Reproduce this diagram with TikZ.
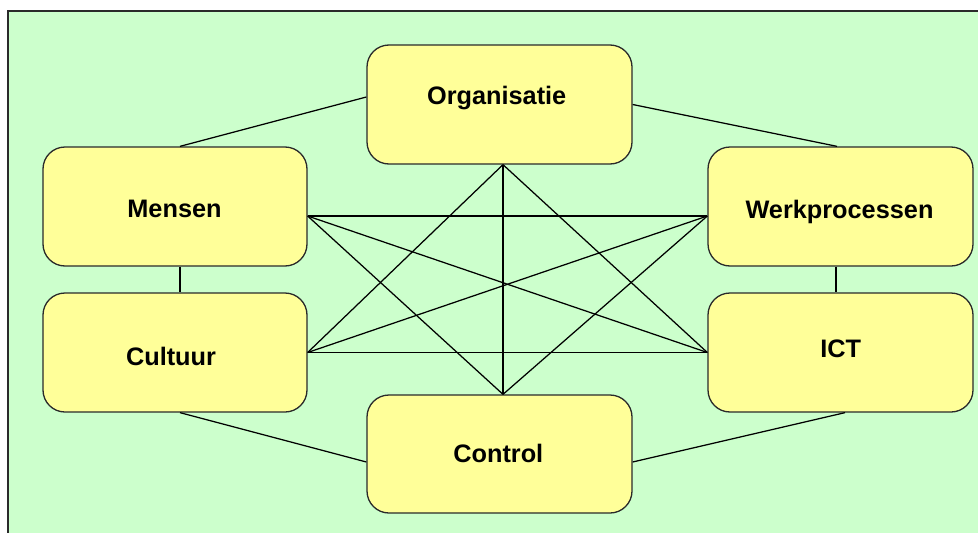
\documentclass[tikz,border=0pt]{standalone}
\usepackage{fontspec}
\setmainfont{Liberation Sans}
\definecolor{panelgreen}{HTML}{CCFFCC}
\definecolor{boxyellow}{HTML}{FFFF99}
\definecolor{edgegray}{HTML}{2A2A2A}
\tikzset{
  box/.style={rectangle, rounded corners=22pt, fill=boxyellow, draw=edgegray,
    line width=1.3pt, inner sep=0pt, minimum width=265pt, minimum height=119pt},
  lbl/.style={font=\fontsize{25.3}{30}\selectfont\bfseries, anchor=base, inner sep=0pt},
  link/.style={draw=black, line width=1.25pt}
}
\begin{document}
\begin{tikzpicture}[x=1pt, y=-1pt]
  \useasboundingbox (0,0) rectangle (978,533);
  \clip (0,0) rectangle (978,533);
  % panel
  \fill[white] (0,0) rectangle (978,533);
  \draw[fill=panelgreen, draw=edgegray, line width=1.4pt] (8,11) rectangle (995,550);

  % blocks
  \node[box] (org) at (499.5,104.5) {};
  \node[box, minimum width=264pt] (mensen) at (175,206.5) {};
  \node[box] (werk) at (840.5,206.5) {};
  \node[box, minimum width=264pt] (cultuur) at (175,352.5) {};
  \node[box] (ict) at (840.5,352.5) {};
  \node[box, minimum height=118pt] (control) at (499.5,454) {};

  % attachment points
  \coordinate (org-w) at ([yshift=7.5pt]org.west);
  \coordinate (org-s) at ([xshift=3.5pt]org.south);
  \coordinate (men-n) at ([xshift=5pt]mensen.north);
  \coordinate (men-s) at ([xshift=5pt]mensen.south);
  \coordinate (men-e) at ([yshift=-9.5pt]mensen.east);
  \coordinate (wrk-n) at ([xshift=-3.5pt]werk.north);
  \coordinate (wrk-s) at ([xshift=-4.5pt]werk.south);
  \coordinate (wrk-w) at ([yshift=-9.5pt]werk.west);
  \coordinate (cul-n) at ([xshift=5pt]cultuur.north);
  \coordinate (cul-s) at ([xshift=5pt]cultuur.south);
  \coordinate (ict-n) at ([xshift=-4.5pt]ict.north);
  \coordinate (ict-s) at ([xshift=4.5pt]ict.south);
  \coordinate (ctl-n) at ([xshift=3.5pt]control.north);
  \coordinate (ctl-w) at ([yshift=-8pt]control.west);
  \coordinate (ctl-e) at ([yshift=-8pt]control.east);

  % outer ring
  \draw[link] (org-w) -- (men-n);
  \draw[link] (org.east) -- (wrk-n);
  \draw[link] (men-s) -- (cul-n);
  \draw[link] (wrk-s) -- (ict-n);
  \draw[link] (cul-s) -- (ctl-w);
  \draw[link] (ict-s) -- (ctl-e);

  % inner web
  \draw[link] (men-e) -- (wrk-w);
  \draw[link] (cultuur.east) -- (ict.west);
  \draw[link] (org-s) -- (ctl-n);
  \draw[link] (men-e) -- (ict.west);
  \draw[link] (cultuur.east) -- (wrk-w);
  \draw[link] (org-s) -- (cultuur.east);
  \draw[link] (org-s) -- (ict.west);
  \draw[link] (ctl-n) -- (men-e);
  \draw[link] (ctl-n) -- (wrk-w);

  % labels
  \node[lbl] (org-t) at (496.7,104.3) {Organisatie};
  \node[lbl] (men-t) at (174.5,217.8) {Mensen};
  \node[lbl] (wrk-t) at (839.5,218.8) {Werkprocessen};
  \node[lbl] (cul-t) at (171,365) {Cultuur};
  \node[lbl] (ict-t) at (840.7,357) {ICT};
  \node[lbl] (ctl-t) at (498.3,462.3) {Control};
\end{tikzpicture}
\end{document}
